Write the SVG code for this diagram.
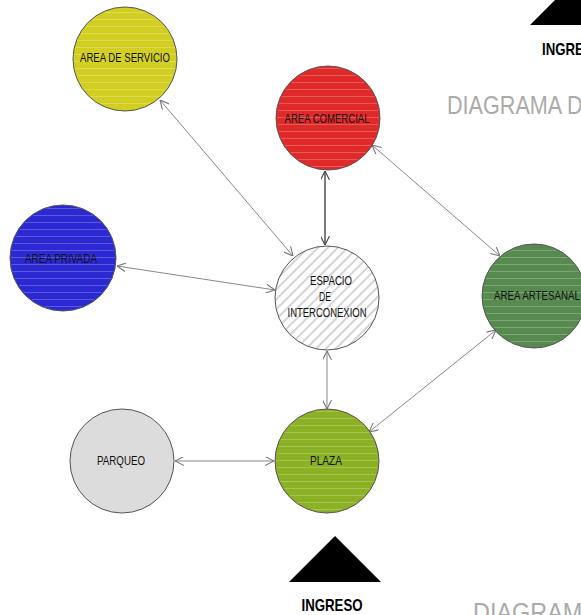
<svg xmlns="http://www.w3.org/2000/svg" width="581" height="615" viewBox="0 0 581 615">
<defs>
<pattern id="stripes" width="10" height="7" patternUnits="userSpaceOnUse">
<rect x="0" y="5" width="10" height="1" fill="#ffffff" fill-opacity="0.22"/>
</pattern>
<pattern id="hatch" width="7" height="7" patternUnits="userSpaceOnUse" patternTransform="rotate(45)">
<rect x="0" y="0" width="2" height="7" fill="#d4d4d4"/>
</pattern>
<marker id="arr" viewBox="0 0 10 10" refX="10" refY="5" markerWidth="9" markerHeight="9" markerUnits="userSpaceOnUse" orient="auto-start-reverse">
<path d="M0,0 L10,5 L0,10" fill="none" stroke="#777" stroke-width="1.2"/>
</marker>
<marker id="arrd" viewBox="0 0 10 10" refX="10" refY="5" markerWidth="9" markerHeight="9" markerUnits="userSpaceOnUse" orient="auto-start-reverse">
<path d="M0,0 L10,5 L0,10" fill="none" stroke="#444" stroke-width="1.2"/>
</marker>
</defs>
<style>
.node{stroke:#555;stroke-width:1}
.ov{fill:url(#stripes);stroke:none}
.lbl{font-family:"Liberation Sans",Arial,sans-serif;font-size:13px;fill:#111;text-anchor:middle}
.con{stroke:#888;stroke-width:1;fill:none;marker-start:url(#arr);marker-end:url(#arr)}
.cond{stroke:#444;stroke-width:1.4;fill:none;marker-start:url(#arrd);marker-end:url(#arrd)}
.big{font-family:"Liberation Sans",Arial,sans-serif;fill:#aaa}
.ing{font-family:"Liberation Sans",Arial,sans-serif;font-weight:bold;font-size:17px;fill:#000}
</style>
<rect width="581" height="615" fill="#fff"/>
<g id="connectors">
<line class="con" x1="160" y1="100" x2="293" y2="256"/>
<line class="cond" x1="325" y1="171" x2="325" y2="245"/>
<line class="con" x1="117" y1="266" x2="275" y2="290"/>
<line class="con" x1="327" y1="351" x2="327" y2="409"/>
<line class="con" x1="372" y1="145" x2="500" y2="256"/>
<line class="con" x1="496" y1="330" x2="369" y2="432"/>
<line class="con" x1="175" y1="461" x2="274" y2="461"/>
</g>
<g id="servicio">
<circle class="node" cx="125" cy="59" r="52" fill="#d3cf22"/>
<circle class="ov" cx="125" cy="59" r="51"/>
<text class="lbl" x="125" y="62" textLength="90" lengthAdjust="spacingAndGlyphs">AREA DE SERVICIO</text>
</g>
<g id="comercial">
<circle class="node" cx="328" cy="118" r="52" fill="#e02a2a"/>
<circle class="ov" cx="328" cy="118" r="51"/>
<text class="lbl" x="327" y="123" textLength="85" lengthAdjust="spacingAndGlyphs">AREA COMERCIAL</text>
</g>
<g id="privada">
<circle class="node" cx="63" cy="258" r="53" fill="#2b2ad2"/>
<circle class="ov" cx="63" cy="258" r="52"/>
<text class="lbl" x="61" y="263" textLength="72" lengthAdjust="spacingAndGlyphs">AREA PRIVADA</text>
</g>
<g id="espacio">
<circle cx="327" cy="298" r="52" fill="#fff"/>
<circle cx="327" cy="298" r="52" fill="url(#hatch)" class="node"/>
<text class="lbl" x="331" y="285" fill="#222" textLength="42" lengthAdjust="spacingAndGlyphs">ESPACIO</text>
<text class="lbl" x="325" y="301" textLength="12" lengthAdjust="spacingAndGlyphs">DE</text>
<text class="lbl" x="327" y="317" textLength="79" lengthAdjust="spacingAndGlyphs">INTERCONEXION</text>
</g>
<g id="artesanal">
<circle class="node" cx="534" cy="296" r="52" fill="#578a4e"/>
<circle class="ov" cx="534" cy="296" r="51"/>
<text class="lbl" x="537" y="300" textLength="86" lengthAdjust="spacingAndGlyphs">AREA ARTESANAL</text>
</g>
<g id="parqueo">
<circle class="node" cx="122" cy="461" r="52" fill="#dcdcdc"/>
<text class="lbl" x="121" y="465" fill="#333" textLength="48" lengthAdjust="spacingAndGlyphs">PARQUEO</text>
</g>
<g id="plaza">
<circle class="node" cx="327" cy="461" r="52" fill="#8cb125"/>
<circle class="ov" cx="327" cy="461" r="51"/>
<text class="lbl" x="326" y="465" textLength="32" lengthAdjust="spacingAndGlyphs">PLAZA</text>
</g>
<g id="ingreso-bottom">
<polygon points="335,536 381,582 289,582" fill="#000"/>
<text class="ing" x="332" y="611" text-anchor="middle" textLength="61" lengthAdjust="spacingAndGlyphs">INGRESO</text>
</g>
<g id="ingreso-top">
<polygon points="575,-20 621,25 530,25" fill="#000"/>
<text class="ing" x="542" y="55" textLength="61" lengthAdjust="spacingAndGlyphs">INGRESO</text>
</g>
<text class="big" x="447" y="114" font-size="26" textLength="150" lengthAdjust="spacingAndGlyphs">DIAGRAMA DE</text>
<text class="big" x="473" y="621" font-size="26" textLength="125" lengthAdjust="spacingAndGlyphs">DIAGRAMA</text>
</svg>
